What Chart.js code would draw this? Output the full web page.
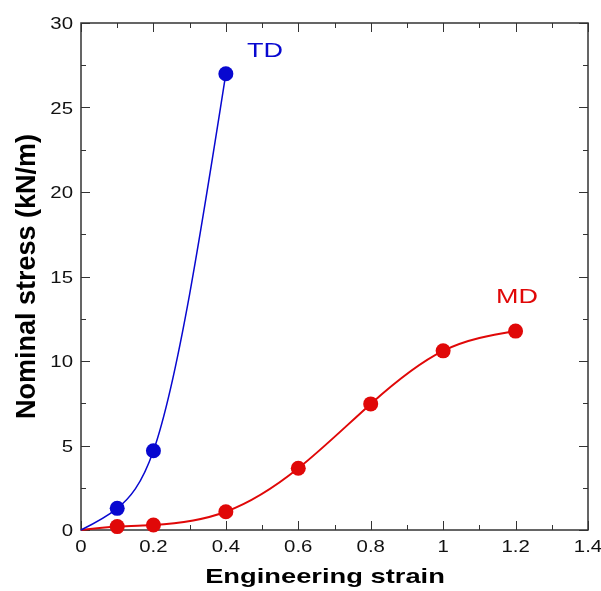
<!DOCTYPE html>
<html>
<head>
<meta charset="utf-8">
<script src="https://cdn.jsdelivr.net/npm/chart.js@4/dist/chart.umd.min.js"></script>
<style>
  html, body { margin: 0; padding: 0; background: #fff; }
  #wrap { width: 601px; height: 591px; position: relative; }
</style>
</head>
<body>
<div id="wrap"><canvas id="c" width="601" height="591"></canvas></div>
<script>
// ---- data ----
const tdStrain = [0, 0.1, 0.2, 0.4];
const tdStress = [0, 1.28, 4.69, 27.0];
const mdStrain = [0, 0.1, 0.2, 0.4, 0.6, 0.8, 1.0, 1.2];
const mdStress = [0, 0.2, 0.3, 1.08, 3.65, 7.46, 10.6, 11.77];
const seriesNames = ['TD', 'MD'];
const xTickValues = [0, 0.2, 0.4, 0.6, 0.8, 1.0, 1.2, 1.4];
const xTickLabels = ['0', '0.2', '0.4', '0.6', '0.8', '1', '1.2', '1.4'];
const yTickValues = [0, 5, 10, 15, 20, 25, 30];
const yTickLabels = ['0', '5', '10', '15', '20', '25', '30'];
const xTitle = 'Engineering strain';
const yTitle = 'Nominal stress (kN/m)';

// ---- styles ----
const BLUE = '#0808d0';
const RED = '#e00808';
const FONT = "'Liberation Sans', Arial, Helvetica, sans-serif";
const seriesLabelAt = { TD: [0.508, 28.4], MD: [1.204, 13.85] };

function toPts(xs, ys) { return xs.map((x, i) => ({ x: x, y: ys[i] })); }
function radii(xs) { return xs.map(x => (x === 0 ? 0 : 7.5)); }

// natural cubic spline slopes at the knots (used only to place the
// bezier control points of the library's own line element)
function naturalSlopes(x, y) {
  const n = x.length;
  const h = [];
  for (let i = 0; i < n - 1; i++) h.push(x[i + 1] - x[i]);
  const M = new Array(n).fill(0);
  if (n > 2) {
    const a = [], b = [], c = [], d = [];
    for (let i = 1; i < n - 1; i++) {
      a.push(h[i - 1]); b.push(2 * (h[i - 1] + h[i])); c.push(h[i]);
      d.push(6 * ((y[i + 1] - y[i]) / h[i] - (y[i] - y[i - 1]) / h[i - 1]));
    }
    const m = b.length;
    for (let i = 1; i < m; i++) {
      const w = a[i] / b[i - 1];
      b[i] -= w * c[i - 1];
      d[i] -= w * d[i - 1];
    }
    const sol = new Array(m);
    sol[m - 1] = d[m - 1] / b[m - 1];
    for (let i = m - 2; i >= 0; i--) sol[i] = (d[i] - c[i] * sol[i + 1]) / b[i];
    for (let i = 0; i < m; i++) M[i + 1] = sol[i];
  }
  const s = [];
  for (let i = 0; i < n - 1; i++) {
    s.push((y[i + 1] - y[i]) / h[i] - h[i] * (2 * M[i] + M[i + 1]) / 6);
  }
  s.push((y[n - 1] - y[n - 2]) / h[n - 2] + h[n - 2] * (M[n - 2] + 2 * M[n - 1]) / 6);
  return s;
}

function stretchText(ctx, text, x, y, sx, align) {
  ctx.save();
  ctx.translate(x, y);
  ctx.scale(sx, 1);
  ctx.textAlign = align;
  ctx.fillText(text, 0, 0);
  ctx.restore();
}

const splinePlugin = {
  id: 'spline',
  beforeDatasetsDraw(chart) {
    const xs = chart.scales.x, ys = chart.scales.y;
    chart.data.datasets.forEach((ds, di) => {
      const meta = chart.getDatasetMeta(di);
      const X = ds.data.map(p => p.x), Y = ds.data.map(p => p.y);
      const m = naturalSlopes(X, Y);
      meta.data.forEach((el, i) => {
        if (i > 0) {
          const h = X[i] - X[i - 1];
          el.cp1x = xs.getPixelForValue(X[i] - h / 3);
          el.cp1y = ys.getPixelForValue(Y[i] - m[i] * h / 3);
        } else { el.cp1x = el.x; el.cp1y = el.y; }
        if (i < X.length - 1) {
          const h = X[i + 1] - X[i];
          el.cp2x = xs.getPixelForValue(X[i] + h / 3);
          el.cp2y = ys.getPixelForValue(Y[i] + m[i] * h / 3);
        } else { el.cp2x = el.x; el.cp2y = el.y; }
      });
      meta.dataset._pointsUpdated = true;
    });
  }
};

const framePlugin = {
  id: 'frame',
  beforeDatasetsDraw(chart) {
    const { ctx, chartArea: a, scales } = chart;
    ctx.save();
    ctx.strokeStyle = '#333';
    ctx.lineWidth = 1;
    const xs = scales.x, ys = scales.y;
    const drawX = (v, len) => {
      const p = Math.round(xs.getPixelForValue(v)) + 0.5;
      ctx.beginPath();
      ctx.moveTo(p, a.bottom); ctx.lineTo(p, a.bottom - len);
      ctx.moveTo(p, a.top); ctx.lineTo(p, a.top + len);
      ctx.stroke();
    };
    const drawY = (v, len) => {
      const p = Math.round(ys.getPixelForValue(v)) + 0.5;
      ctx.beginPath();
      ctx.moveTo(a.left, p); ctx.lineTo(a.left + len, p);
      ctx.moveTo(a.right, p); ctx.lineTo(a.right - len, p);
      ctx.stroke();
    };
    xTickValues.forEach((v, i) => {
      drawX(v, 9);
      if (i < xTickValues.length - 1) drawX((v + xTickValues[i + 1]) / 2, 5);
    });
    yTickValues.forEach((v, i) => {
      drawY(v, 9);
      if (i < yTickValues.length - 1) drawY((v + yTickValues[i + 1]) / 2, 5);
    });
    ctx.lineWidth = 1.5;
    ctx.strokeRect(a.left, a.top, a.right - a.left, a.bottom - a.top);

    ctx.fillStyle = '#111';
    ctx.font = '17px ' + FONT;
    ctx.textBaseline = 'alphabetic';
    xTickValues.forEach((v, i) => {
      stretchText(ctx, xTickLabels[i], xs.getPixelForValue(v), a.bottom + 22, 1.2, 'center');
    });
    yTickValues.forEach((v, i) => {
      stretchText(ctx, yTickLabels[i], a.left - 8, ys.getPixelForValue(v) + 6, 1.2, 'right');
    });
    ctx.fillStyle = '#000';
    ctx.font = 'bold 21px ' + FONT;
    stretchText(ctx, xTitle, 325, 583, 1.3, 'center');
    ctx.restore();
  },
  afterDatasetsDraw(chart) {
    const { ctx, scales } = chart;
    ctx.save();
    ctx.font = '20px ' + FONT;
    ctx.textBaseline = 'alphabetic';
    chart.data.datasets.forEach(ds => {
      const pos = seriesLabelAt[ds.label];
      const px = scales.x.getPixelForValue(pos[0]);
      const py = scales.y.getPixelForValue(pos[1]) + 7;
      ctx.fillStyle = ds.borderColor;
      stretchText(ctx, ds.label, px, py, 1.35, 'center');
    });
    ctx.restore();
  }
};

new Chart(document.getElementById('c'), {
  type: 'line',
  data: {
    datasets: [
      {
        label: seriesNames[0],
        data: toPts(tdStrain, tdStress),
        borderColor: BLUE, backgroundColor: BLUE,
        borderWidth: 1.5,
        pointRadius: radii(tdStrain), pointBorderWidth: 0,
        pointBackgroundColor: BLUE,
        tension: 0.4,
        clip: false
      },
      {
        label: seriesNames[1],
        data: toPts(mdStrain, mdStress),
        borderColor: RED, backgroundColor: RED,
        borderWidth: 2,
        pointRadius: radii(mdStrain), pointBorderWidth: 0,
        pointBackgroundColor: RED,
        tension: 0.4,
        clip: false
      }
    ]
  },
  options: {
    responsive: false,
    animation: false,
    events: [],
    layout: { padding: { top: 23, right: 13, left: 0, bottom: 0 } },
    plugins: { legend: { display: false }, tooltip: { enabled: false } },
    scales: {
      x: {
        type: 'linear', min: 0, max: 1.4,
        afterBuildTicks: s => { s.ticks = xTickValues.map(v => ({ value: v })); },
        afterFit: s => { s.height = 61; s.paddingLeft = 0; s.paddingRight = 0; },
        grid: { display: false },
        border: { display: false },
        ticks: { display: false },
        title: { display: false }
      },
      y: {
        type: 'linear', min: 0, max: 30,
        afterBuildTicks: s => { s.ticks = yTickValues.map(v => ({ value: v })); },
        afterFit: s => { s.width = 81; s.paddingTop = 0; s.paddingBottom = 0; },
        grid: { display: false },
        border: { display: false },
        ticks: { display: false },
        title: {
          display: true, text: yTitle, color: '#000',
          font: { size: 27, weight: 'bold', family: FONT },
          padding: { top: 11, bottom: 0 }
        }
      }
    }
  },
  plugins: [splinePlugin, framePlugin]
});
</script>
</body>
</html>
